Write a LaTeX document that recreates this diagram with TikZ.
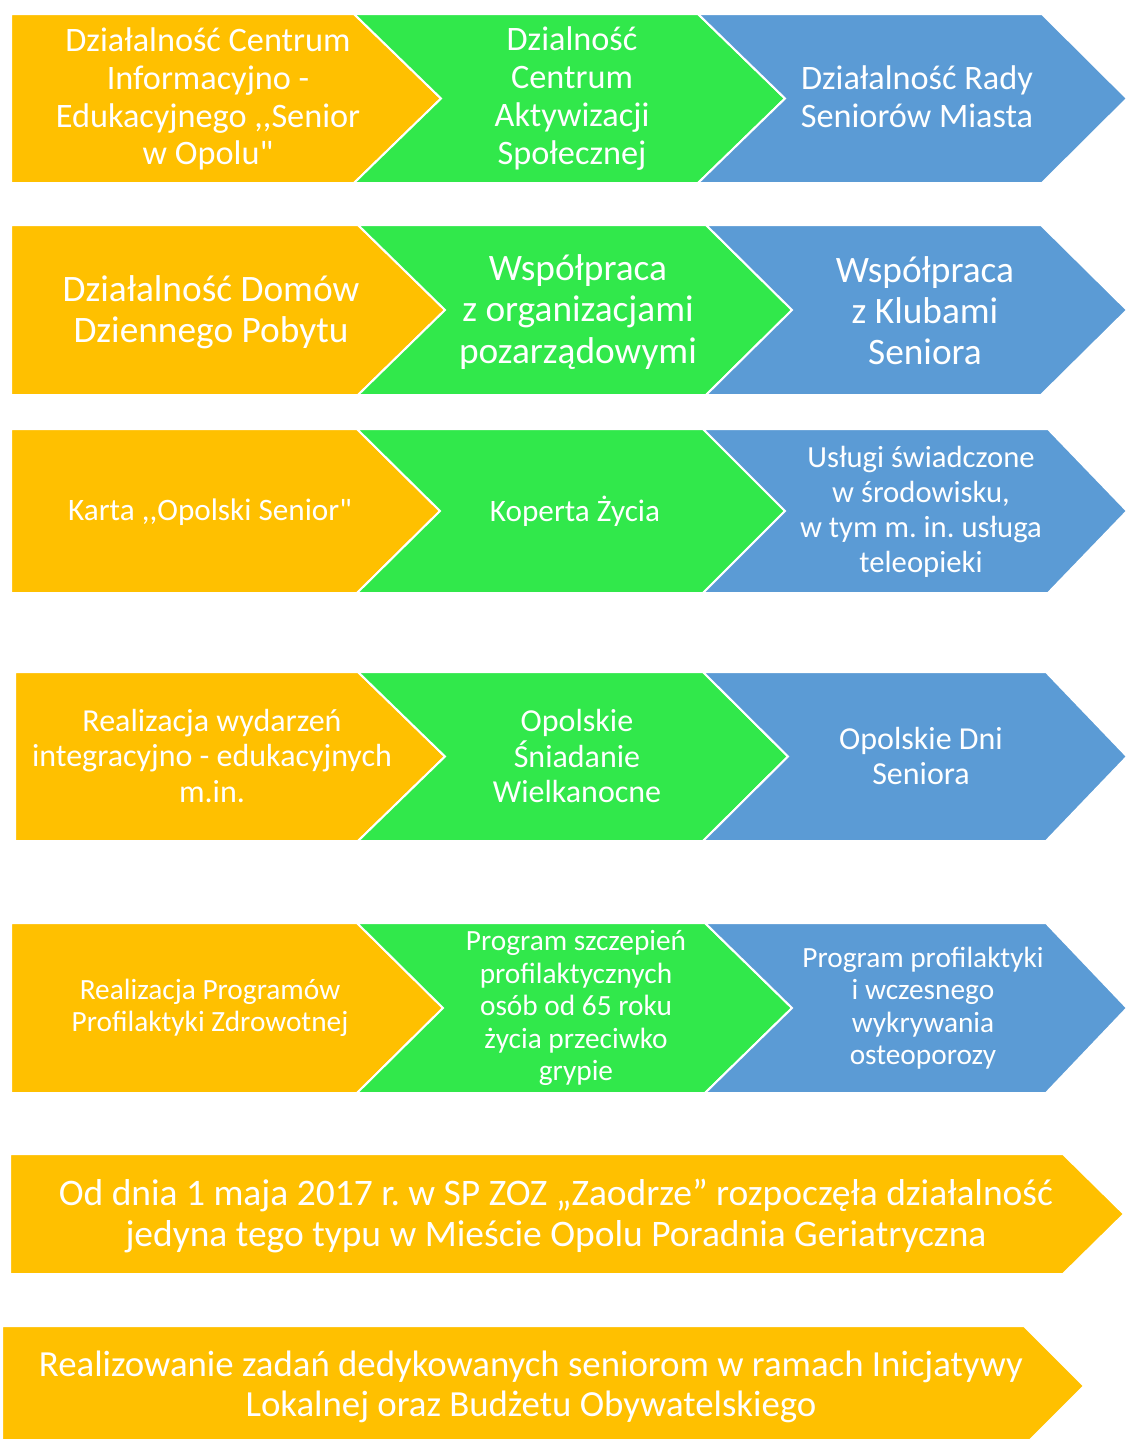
\documentclass[tikz,border=0pt]{standalone}
\usepackage{fontspec}
\setmainfont{Carlito}[Ligatures=TeXOff]
\frenchspacing
\definecolor{cOr}{HTML}{FFC000}
\definecolor{cGr}{HTML}{31E84B}
\definecolor{cBl}{HTML}{5B9BD5}
\begin{document}
\begin{tikzpicture}[x=0.75pt,y=-0.75pt,
  shp/.style={line width=1.5pt, draw=white, line join=miter},
  lbl/.style={text=white, align=center, inner sep=0pt},
  fa/.style={font=\fontsize{25.7}{28.3}\selectfont\frenchspacing},
  fb/.style={font=\fontsize{28}{30.8}\selectfont\frenchspacing},
  fc/.style={font=\fontsize{23.4}{26.3}\selectfont\frenchspacing},
  fcs/.style={font=\fontsize{23}{26.3}\selectfont\frenchspacing},
  fd/.style={font=\fontsize{24}{26.3}\selectfont\frenchspacing},
  fe/.style={font=\fontsize{22}{24.4}\selectfont\frenchspacing},
  ff/.style={font=\fontsize{28.1}{31.3}\selectfont\frenchspacing},
  fg/.style={font=\fontsize{27.6}{30.5}\selectfont\frenchspacing}]
\useasboundingbox (0,0) rectangle (1126,1439);
\clip (0,0) rectangle (1126,1439);

% Row 1
\fill[cOr,shp] (11,14) -- (354,14) -- (441,98.5) -- (354,183) -- (11,183) -- cycle;
\fill[cGr,shp] (354,14) -- (698,14) -- (785,98.5) -- (698,183) -- (354,183) -- (441,98.5) -- cycle;
\fill[cBl,shp] (698,14) -- (1042,14) -- (1127,98.5) -- (1042,183) -- (698,183) -- (785,98.5) -- cycle;
\node[lbl,fa] (o1) at (208,99) {Działalność Centrum\\Informacyjno -\\Edukacyjnego ,,Senior\\w Opolu"};
\node[lbl,fa] (g1) at (572,98.5) {Dzialność\\Centrum\\Aktywizacji\\Społecznej};
\node[lbl,fa] (b1) at (917,96.5) {Działalność Rady\\Seniorów Miasta};

% Row 2
\fill[cOr,shp] (11,225) -- (358,225) -- (445,310) -- (358,395) -- (11,395) -- cycle;
\fill[cGr,shp] (358,225) -- (706,225) -- (792,310) -- (706,395) -- (358,395) -- (445,310) -- cycle;
\fill[cBl,shp] (706,225) -- (1041,225) -- (1127,310) -- (1041,395) -- (706,395) -- (792,310) -- cycle;
\node[lbl,fb] (o2) at (211,312) {Działalność Domów\\Dziennego Pobytu};
\node[lbl,fb] (g2) at (578,312) {Współpraca\\z organizacjami\\pozarządowymi};
\node[lbl,fb] (b2) at (925,310.5) {Współpraca\\z Klubami\\Seniora};

% Row 3
\fill[cOr,shp] (11,429) -- (357,429) -- (440,511) -- (357,593) -- (11,593) -- cycle;
\fill[cGr,shp] (357,429) -- (703,429) -- (785,511) -- (703,593) -- (357,593) -- (440,511) -- cycle;
\fill[cBl,shp] (703,429) -- (1048,429) -- (1127,511) -- (1048,593) -- (703,593) -- (785,511) -- cycle;
\node[lbl,fc] (o3) at (210,512) {Karta ,,Opolski Senior"};
\node[lbl,fc] (g3) at (575,511) {Koperta Życia};
\node[lbl,fcs] (b3) at (921,512) {Usługi świadczone\\w środowisku,\\w tym m. in. usługa\\teleopieki};

% Row 4
\fill[cOr,shp] (15,672) -- (358,672) -- (445,756.5) -- (358,841) -- (15,841) -- cycle;
\fill[cGr,shp] (358,672) -- (703,672) -- (788,756.5) -- (703,841) -- (358,841) -- (445,756.5) -- cycle;
\fill[cBl,shp] (703,672) -- (1046,672) -- (1127,756.5) -- (1046,841) -- (703,841) -- (788,756.5) -- cycle;
\node[lbl,fd] (o4) at (212,756) {Realizacja wydarzeń\\integracyjno - edukacyjnych\\m.in.};
\node[lbl,fd] (g4) at (577,756) {Opolskie\\Śniadanie\\Wielkanocne};
\node[lbl,fd] (b4) at (921,756) {Opolskie Dni\\Seniora};

% Row 5
\fill[cOr,shp] (11,923) -- (357,923) -- (443,1008) -- (357,1093) -- (11,1093) -- cycle;
\fill[cGr,shp] (357,923) -- (705,923) -- (792,1008) -- (705,1093) -- (357,1093) -- (443,1008) -- cycle;
\fill[cBl,shp] (705,923) -- (1046,923) -- (1127,1008) -- (1046,1093) -- (705,1093) -- (792,1008) -- cycle;
\node[lbl,fe] (o5) at (210,1008) {Realizacja Programów\\Profilaktyki Zdrowotnej};
\node[lbl,fe] (g5) at (576,1008) {Program szczepień\\profilaktycznych\\osób od 65 roku\\życia przeciwko\\grypie};
\node[lbl,fe] (b5) at (923,1008) {Program profilaktyki\\i wczesnego\\wykrywania\\osteoporozy};

% Row 6
\fill[cOr,shp] (10,1154) -- (1063,1154) -- (1124,1214) -- (1063,1274) -- (10,1274) -- cycle;
\node[lbl,ff] (o6) at (556,1216) {Od dnia 1 maja 2017 r. w SP ZOZ „Zaodrze” rozpoczęła działalność\\jedyna tego typu w Mieście Opolu Poradnia Geriatryczna};

% Row 7
\fill[cOr,shp] (2,1326) -- (1024,1326) -- (1084,1386) -- (1024,1446) -- (2,1446) -- cycle;
\node[lbl,fg] (o7) at (531,1387) {Realizowanie zadań dedykowanych seniorom w ramach Inicjatywy\\Lokalnej oraz Budżetu Obywatelskiego};
\end{tikzpicture}
\end{document}
